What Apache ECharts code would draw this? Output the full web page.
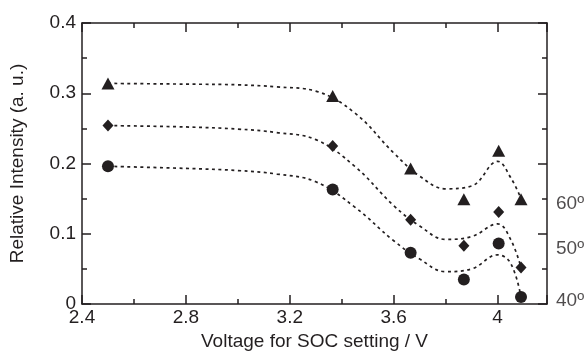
<!DOCTYPE html>
<html>
<head>
<meta charset="utf-8">
<script src="https://cdn.jsdelivr.net/npm/echarts@6/dist/echarts.min.js"></script>
<style>
  html, body { margin: 0; padding: 0; background: #fff; }
  #chart { width: 587px; height: 356px; }
</style>
</head>
<body>
<div id="chart"></div>
<script>
// measured points (x = voltage)
const voltages = [2.5, 3.365, 3.665, 3.87, 4.004, 4.09];
const tri60 = [0.314, 0.296, 0.193, 0.149, 0.218, 0.149];
const dia50 = [0.254, 0.225, 0.120, 0.083, 0.131, 0.052];
const cir40 = [0.196, 0.163, 0.073, 0.035, 0.086, 0.010];

// fitted guide curves (dotted)
const fitX = [2.5, 2.8, 3.0, 3.15, 3.3, 3.45, 3.6, 3.7, 3.8, 3.9, 4.0, 4.05, 4.09];
const fit60 = [0.314, 0.313, 0.312, 0.309, 0.303, 0.272, 0.215, 0.182, 0.164, 0.168, 0.203, 0.180, 0.150];
const fit50 = [0.254, 0.252, 0.249, 0.244, 0.234, 0.196, 0.140, 0.111, 0.092, 0.096, 0.114, 0.092, 0.052];
const fit40 = [0.196, 0.193, 0.190, 0.185, 0.174, 0.138, 0.090, 0.064, 0.046, 0.050, 0.070, 0.058, 0.010];

// angle labels on the right side
const angleLabels = ['60º', '50º', '40º'];
const angleLabelY = [0.142, 0.079, 0.005];

const xMin = 2.4, xMax = 4.19, xStep = 0.4;
const yMin = 0, yMax = 0.4, yStep = 0.1;

const ink = '#231f20';
const font = 'Liberation Sans, Arial, sans-serif';
const fs = 19;

const zip = (xs, ys) => xs.map((x, i) => [x, ys[i]]);

const chart = echarts.init(document.getElementById('chart'), null, { renderer: 'canvas' });

const baseX = {
  type: 'value', min: xMin, max: xMax, interval: xStep,
  axisLine: { show: true, onZero: false, lineStyle: { color: ink, width: 1.5 } },
  axisTick: { show: true, inside: true, length: 9, lineStyle: { color: ink, width: 1.5 } },
  minorTick: { show: true, splitNumber: 2, length: 5, lineStyle: { color: ink, width: 1.5 } },
  splitLine: { show: false },
};
const baseY = {
  type: 'value', min: yMin, max: yMax, interval: yStep,
  axisLine: { show: true, onZero: false, lineStyle: { color: ink, width: 1.5 } },
  axisTick: { show: true, inside: true, length: 9, lineStyle: { color: ink, width: 1.5 } },
  minorTick: { show: true, splitNumber: 2, length: 5, lineStyle: { color: ink, width: 1.5 } },
  splitLine: { show: false },
};

const fitLine = (ys) => ({
  type: 'line',
  data: zip(fitX, ys),
  smooth: 0.4,
  symbol: 'none',
  lineStyle: { color: ink, width: 1.7, type: [3, 3.5] },
  z: 1,
});
const markers = (ys, symbol, size) => ({
  type: 'scatter',
  data: zip(voltages, ys),
  symbol,
  symbolSize: size,
  itemStyle: { color: ink, opacity: 1 },
  z: 3,
});

const option = {
  animation: false,
  textStyle: { fontFamily: font },
  grid: { left: 82, right: 40, top: 23, bottom: 49 },
  xAxis: [
    Object.assign({}, baseX, {
      position: 'bottom',
      name: 'Voltage for SOC setting / V',
      nameLocation: 'middle',
      nameGap: 28,
      nameTextStyle: { color: ink, fontSize: fs, fontFamily: font },
      axisLabel: {
        color: ink, fontSize: fs, fontFamily: font, margin: 4, showMaxLabel: false,
        formatter: v => (Math.abs(v - 4) < 1e-6 ? '4' : v.toFixed(1)),
      },
    }),
    Object.assign({}, baseX, { position: 'top', axisLabel: { show: false } }),
  ],
  yAxis: [
    Object.assign({}, baseY, {
      position: 'left',
      name: 'Relative Intensity (a. u.)',
      nameLocation: 'middle',
      nameGap: 55,
      nameTextStyle: { color: ink, fontSize: fs, fontFamily: font },
      axisLabel: {
        color: ink, fontSize: fs, fontFamily: font, margin: 6,
        formatter: v => (v === 0 ? '0' : v.toFixed(1)),
      },
    }),
    Object.assign({}, baseY, { position: 'right', axisLabel: { show: false } }),
  ],
  series: [
    fitLine(fit60),
    fitLine(fit50),
    fitLine(fit40),
    markers(tri60, 'triangle', [13, 12]),
    markers(dia50, 'diamond', [11, 12]),
    markers(cir40, 'circle', 12),
    {
      type: 'scatter',
      data: angleLabelY.map((y, i) => ({ value: [xMax, y], name: angleLabels[i] })),
      symbolSize: 0,
      clip: false,
      silent: true,
      label: {
        show: true, position: 'right', distance: 9,
        formatter: p => p.name,
        color: ink, fontSize: fs, fontFamily: font,
      },
    },
  ],
};

chart.setOption(option);
</script>
</body>
</html>
